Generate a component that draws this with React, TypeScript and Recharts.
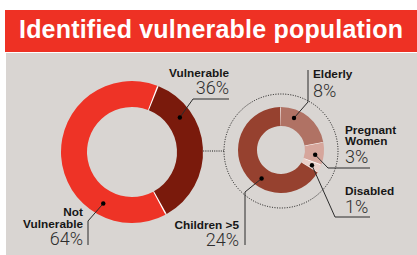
import React from 'react';
import { PieChart, Pie, Cell } from 'recharts';

// données
const populationGroups = ['Vulnerable', 'Not Vulnerable'];
const populationShares = [36, 64];
const vulnerableGroups = ['Elderly', 'Pregnant Women', 'Disabled', 'Children >5'];
const vulnerableShares = [8, 3, 1, 24];

const populationColors = ['#7a1a0c', '#ee3326'];
const vulnerableColors = ['#b07264', '#d6a69c', '#ead0ca', '#96412f'];

const populationData = populationGroups.map((name, i) => ({ name, value: populationShares[i] }));
const vulnerableData = vulnerableGroups.map((name, i) => ({ name, value: vulnerableShares[i] }));

const RAD = Math.PI / 180;
const INK = '#2b2b2b';

// placement des étiquettes (position du point dans la tranche, coude, fin du trait, texte)
type Layout = {
  at: number;
  elbow: [number, number];
  end: [number, number];
  lines: string[];
  x: number;
  anchor: 'start' | 'end';
  boldY: number[];
  pctY: number;
};

const layouts: Record<string, Layout> = {
  Vulnerable: { at: 0.25, elbow: [193, 99], end: [229, 99], lines: ['Vulnerable'], x: 229, anchor: 'end', boldY: [77], pctY: 94 },
  'Not Vulnerable': { at: 0.25, elbow: [88, 221], end: [88, 245], lines: ['Not', 'Vulnerable'], x: 83, anchor: 'end', boldY: [216, 228], pctY: 245 },
  Elderly: { at: 0.28, elbow: [308, 102], end: [308, 70], lines: ['Elderly'], x: 313, anchor: 'start', boldY: [78], pctY: 97 },
  'Pregnant Women': { at: 0.6, elbow: [328, 168], end: [370, 168], lines: ['Pregnant', 'Women'], x: 345, anchor: 'start', boldY: [134, 145], pctY: 163 },
  Disabled: { at: 0.55, elbow: [335, 217], end: [370, 217], lines: ['Disabled'], x: 345, anchor: 'start', boldY: [195], pctY: 213 },
  'Children >5': { at: 0.39, elbow: [245, 192], end: [245, 245], lines: ['Children >5'], x: 239, anchor: 'end', boldY: [229], pctY: 246 },
};

const renderLabel = (props: any) => {
  const { cx, cy, innerRadius, outerRadius, startAngle, endAngle, name, value } = props;
  const lay = layouts[name];
  if (!lay) return null;
  const angle = startAngle + (endAngle - startAngle) * lay.at;
  const r = (innerRadius + outerRadius) / 2 + 1;
  const px = cx + r * Math.cos(-angle * RAD);
  const py = cy + r * Math.sin(-angle * RAD);
  return (
    <g>
      <polyline
        points={`${px},${py} ${lay.elbow[0]},${lay.elbow[1]} ${lay.end[0]},${lay.end[1]}`}
        fill="none"
        stroke={INK}
        strokeWidth={1}
      />
      <circle cx={px} cy={py} r={2.2} fill="#000" />
      {lay.lines.map((t, i) => (
        <text
          key={t}
          x={lay.x}
          y={lay.boldY[i]}
          textAnchor={lay.anchor}
          fontFamily="'Liberation Sans', Arial, sans-serif"
          fontWeight="bold"
          fontSize={11.8}
          fill="#161616"
        >
          {t}
        </text>
      ))}
      <text
        x={lay.x}
        y={lay.pctY}
        textAnchor={lay.anchor}
        fontFamily="Roboto, 'Liberation Sans', sans-serif"
        fontWeight={300}
        fontSize={18}
        fill="#2e2e2e"
      >
        {`${value}%`}
      </text>
    </g>
  );
};

const BIG = { cx: 132, cy: 152, inner: 45, outer: 71 };
const SMALL = { cx: 281, cy: 150, inner: 24, outer: 43, ring: 57 };

export default function App() {
  return (
    <div style={{ position: 'absolute', left: 0, top: 0, width: 417, height: 255, background: '#fff' }}>
      <div
        style={{
          position: 'absolute',
          left: 5,
          top: 10,
          width: 412,
          height: 42,
          background: '#ee3124',
          color: '#fff',
          fontFamily: "'Liberation Sans', Arial, sans-serif",
          fontWeight: 'bold',
          fontSize: 25,
          lineHeight: '38px',
          paddingLeft: 14,
          boxSizing: 'border-box',
          letterSpacing: 0.2,
          whiteSpace: 'nowrap',
        }}
      >
        Identified vulnerable population
      </div>
      <div style={{ position: 'absolute', left: 6, top: 53, width: 411, height: 202, background: '#d9d5d2' }} />
      <div style={{ position: 'absolute', left: 0, top: 0 }}>
        <PieChart width={417} height={255} margin={{ top: 0, right: 0, bottom: 0, left: 0 }}>
          {/* liaison pointillée vers le détail */}
          <line
            x1={BIG.cx + (BIG.inner + BIG.outer) / 2}
            y1={BIG.cy - 1}
            x2={SMALL.cx - SMALL.ring}
            y2={BIG.cy - 1}
            stroke="#000"
            strokeWidth={0.9}
            strokeDasharray="1 1.2"
          />
          <circle
            cx={SMALL.cx}
            cy={SMALL.cy + 1}
            r={SMALL.ring}
            fill="none"
            stroke="#000"
            strokeWidth={0.9}
            strokeDasharray="1 1.5"
          />
          {/* fonds blancs pour les séparations */}
          <Pie
            data={[{ name: 'bg', value: 1 }]}
            dataKey="value"
            cx={BIG.cx}
            cy={BIG.cy}
            innerRadius={BIG.inner + 1}
            outerRadius={BIG.outer - 1}
            fill="#fff"
            stroke="none"
            isAnimationActive={false}
          />
          <Pie
            data={populationData}
            dataKey="value"
            cx={BIG.cx}
            cy={BIG.cy}
            innerRadius={BIG.inner}
            outerRadius={BIG.outer}
            startAngle={68}
            endAngle={-292}
            paddingAngle={1.2}
            stroke="none"
            labelLine={false}
            label={renderLabel}
            isAnimationActive={false}
          >
            {populationData.map((d, i) => (
              <Cell key={d.name} fill={populationColors[i]} />
            ))}
          </Pie>
          <Pie
            data={[{ name: 'bg2', value: 1 }]}
            dataKey="value"
            cx={SMALL.cx}
            cy={SMALL.cy}
            innerRadius={SMALL.inner + 1}
            outerRadius={SMALL.outer - 1}
            fill="#fff"
            stroke="none"
            isAnimationActive={false}
          />
          <Pie
            data={vulnerableData}
            dataKey="value"
            cx={SMALL.cx}
            cy={SMALL.cy}
            innerRadius={SMALL.inner}
            outerRadius={SMALL.outer}
            startAngle={90}
            endAngle={-270}
            paddingAngle={1}
            stroke="none"
            labelLine={false}
            label={renderLabel}
            isAnimationActive={false}
          >
            {vulnerableData.map((d, i) => (
              <Cell key={d.name} fill={vulnerableColors[i]} />
            ))}
          </Pie>
        </PieChart>
      </div>
    </div>
  );
}
